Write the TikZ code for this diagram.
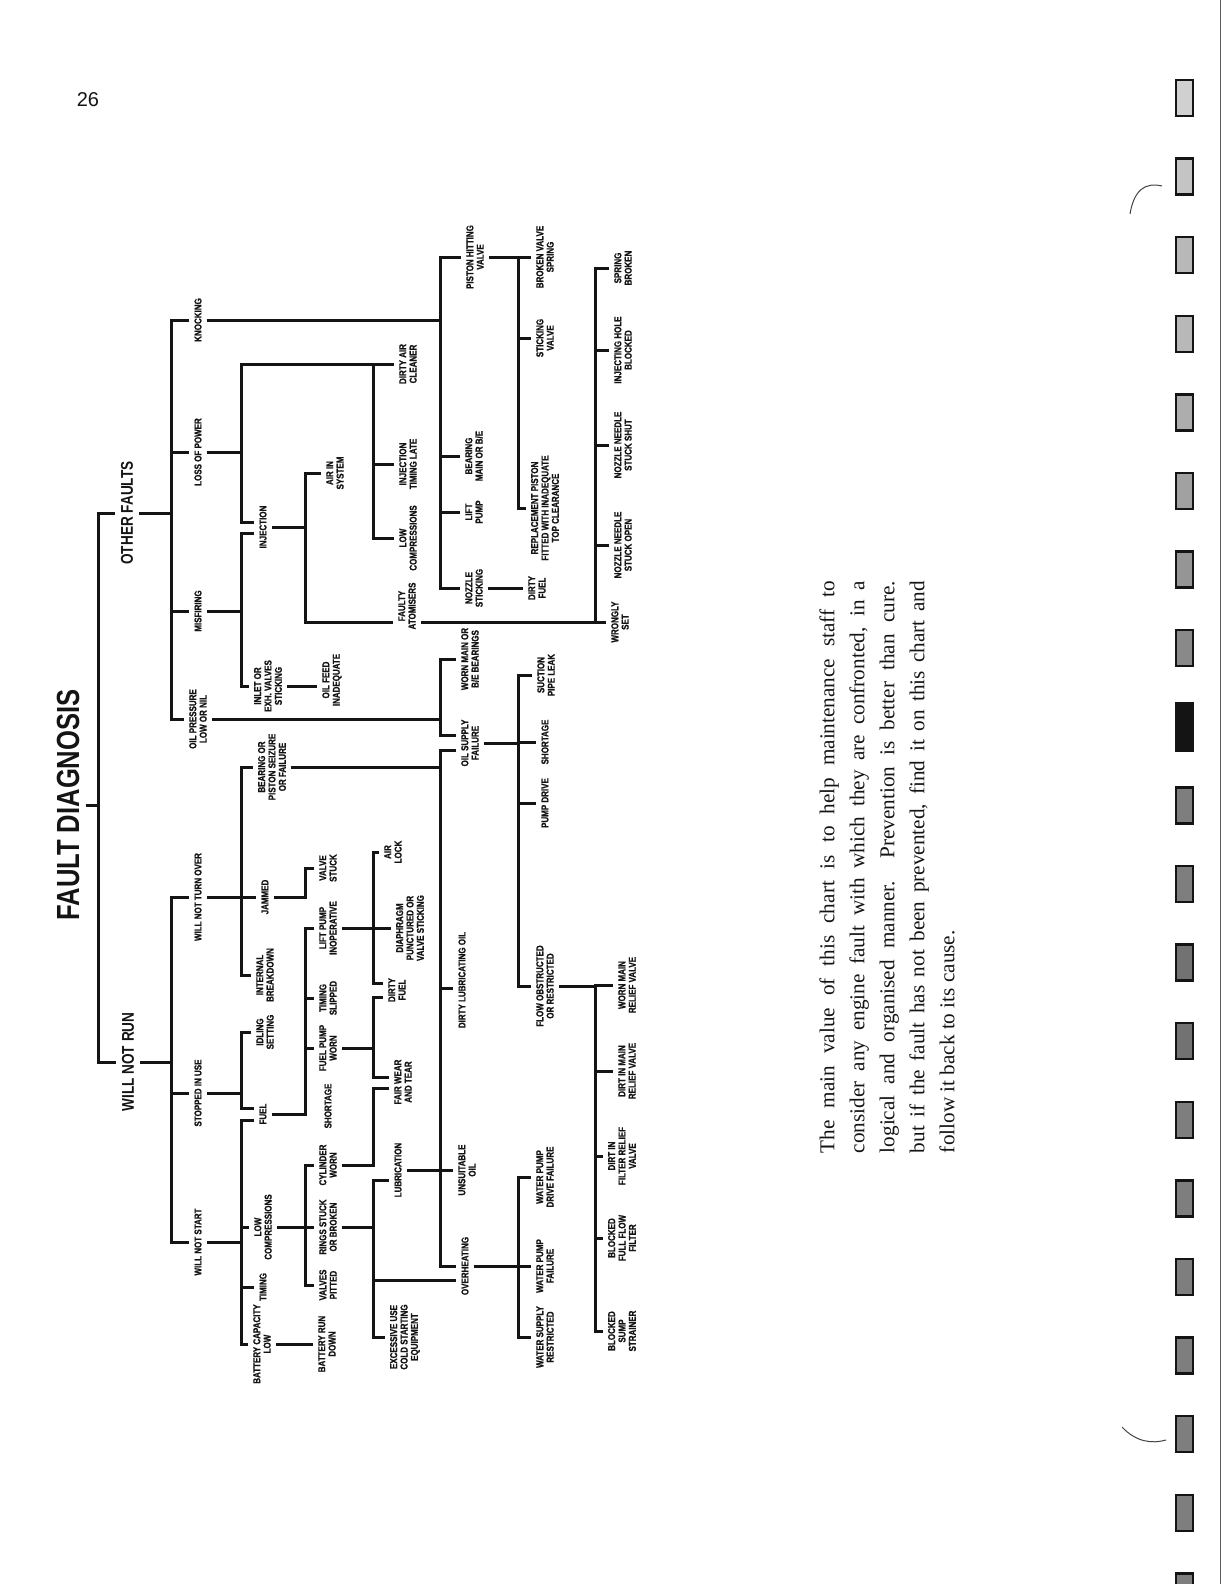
\documentclass[tikz,border=0pt]{standalone}
\usepackage{fontspec}
\setmainfont{Liberation Serif}
\newfontfamily\chartfont{Liberation Sans}[FakeStretch=0.8, FakeBold=1]
\newfontfamily\headfont{Liberation Sans}[FakeStretch=0.8]
\newfontfamily\pagefont{Liberation Sans}
\usetikzlibrary{calc}
\definecolor{ink}{HTML}{141414}

\begin{document}
\begin{tikzpicture}[
  x=0.5pt, y=-0.5pt, color=ink,
  wire/.style={draw=ink, line width=1.5pt},
  cause/.style={rotate=90, align=center, inner sep=2.5pt,
    font=\chartfont\bfseries\fontsize{5}{5.2}\selectfont},
  fault/.style={rotate=90, inner sep=3pt,
    font=\headfont\bfseries\fontsize{8.5}{10}\selectfont},
  head/.style={rotate=90, inner sep=3pt,
    font=\headfont\bfseries\fontsize{16}{18}\selectfont},
  note/.style={rotate=90, align=left, inner sep=0pt,
    font=\fontsize{10.6}{15}\selectfont},
  hole/.style={draw=ink, line width=1.2pt},
]
  \useasboundingbox (0,0) rectangle (1224,1584);

  % Page coordinates in pixels, y downwards; x of each column of bars.
  \def\colA{98} \def\colB{171} \def\colC{241} \def\colD{305}
  \def\colE{373} \def\colF{440} \def\colG{518} \def\colH{595}
  \def\notew{286pt}

  \node[font=\pagefont\fontsize{10}{12}\selectfont] (page) at (88,100) {26};

  % Heading and the two families of faults.
  \node[head] (root) at (68,805) {FAULT DIAGNOSIS};
  \node[fault] (other) at (127,513) {OTHER FAULTS};
  \node[fault] (wnrun) at (128,1062) {WILL NOT RUN};

  % Symptoms.
  \node[cause] (knock) at (198,320) {KNOCKING};
  \node[cause] (lossp) at (198,452) {LOSS OF POWER};
  \node[cause] (misf) at (198,611) {MISFIRING};
  \node[cause] (oilp) at (198,719) {OIL PRESSURE\\LOW OR NIL};
  \node[cause] (noturn) at (198,897) {WILL NOT TURN OVER};
  \node[cause] (stopped) at (198,1093) {STOPPED IN USE};
  \node[cause] (nostart) at (198,1242) {WILL NOT START};

  % First causes.
  \node[cause] (inject) at (263,527) {INJECTION};
  \node[cause] (inlet) at (268,686) {INLET OR\\EXH. VALVES\\STICKING};
  \node[cause] (seize) at (272,767) {BEARING OR\\PISTON SEIZURE\\OR FAILURE};
  \node[cause] (jammed) at (265,897) {JAMMED};
  \node[cause] (internal) at (265,975) {INTERNAL\\BREAKDOWN};
  \node[cause] (idling) at (265,1032) {IDLING\\SETTING};
  \node[cause] (fuel) at (263,1114) {FUEL};
  \node[cause] (lowcomp) at (263,1227) {LOW\\COMPRESSIONS};
  \node[cause] (timing) at (263,1287) {TIMING};
  \node[cause] (battery) at (262,1344) {BATTERY CAPACITY\\LOW};

  \node[cause] (airsys) at (335,473) {AIR IN\\SYSTEM};
  \node[cause] (oilfeed) at (332,680) {OIL FEED\\INADEQUATE};
  \node[cause] (valvestk) at (328,868) {VALVE\\STUCK};
  \node[cause] (liftinop) at (328,928) {LIFT PUMP\\INOPERATIVE};
  \node[cause] (timslip) at (328,998) {TIMING\\SLIPPED};
  \node[cause] (pumpworn) at (328,1048) {FUEL PUMP\\WORN};
  \node[cause] (shortf) at (328,1106) {SHORTAGE};
  \node[cause] (cylworn) at (328,1165) {CYLINDER\\WORN};
  \node[cause] (rings) at (328,1227) {RINGS STUCK\\OR BROKEN};
  \node[cause] (pitted) at (328,1285) {VALVES\\PITTED};
  \node[cause] (rundown) at (327,1344) {BATTERY RUN\\DOWN};

  \node[cause] (aircln) at (408,364) {DIRTY AIR\\CLEANER};
  \node[cause] (late) at (408,464) {INJECTION\\TIMING LATE};
  \node[cause] (lowcompb) at (408,538) {LOW\\COMPRESSIONS};
  \node[cause] (atomis) at (407,606) {FAULTY\\ATOMISERS};
  \node[cause] (airlock) at (393,852) {AIR\\LOCK};
  \node[cause] (diaph) at (410,928) {DIAPHRAGM\\PUNCTURED OR\\VALVE STICKING};
  \node[cause] (dirtyf) at (397,990) {DIRTY\\FUEL};
  \node[cause] (wear) at (403,1082) {FAIR WEAR\\AND TEAR};
  \node[cause] (lubric) at (398,1170) {LUBRICATION};
  \node[cause] (coldst) at (405,1337) {EXCESSIVE USE\\COLD STARTING\\EQUIPMENT};

  % Deeper causes.
  \node[cause] (hitting) at (475,257) {PISTON HITTING\\VALVE};
  \node[cause] (bearing) at (474,456) {BEARING\\MAIN OR B/E};
  \node[cause] (liftp) at (474,512) {LIFT\\PUMP};
  \node[cause] (nozstk) at (474,588) {NOZZLE\\STICKING};
  \node[cause] (wornbe) at (470,659) {WORN MAIN OR\\B/E BEARINGS};
  \node[cause] (supply) at (470,743) {OIL SUPPLY\\FAILURE};
  \node[cause] (dirtyoil) at (462,980) {DIRTY LUBRICATING OIL};
  \node[cause] (unsuit) at (467,1170) {UNSUITABLE\\OIL};
  \node[cause] (overheat) at (465,1266) {OVERHEATING};

  \node[cause] (brokensp) at (545,257) {BROKEN VALVE\\SPRING};
  \node[cause] (sticking) at (545,338) {STICKING\\VALVE};
  \node[cause] (replace) at (545,508) {REPLACEMENT PISTON\\FITTED WITH INADEQUATE\\TOP CLEARANCE};
  \node[cause] (dirtyfb) at (537,588) {DIRTY\\FUEL};
  \node[cause] (suction) at (546,675) {SUCTION\\PIPE LEAK};
  \node[cause] (shorto) at (545,742) {SHORTAGE};
  \node[cause] (pumpdrv) at (545,803) {PUMP DRIVE};
  \node[cause] (flow) at (545,986) {FLOW OBSTRUCTED\\OR RESTRICTED};
  \node[cause] (wpdrive) at (545,1177) {WATER PUMP\\DRIVE FAILURE};
  \node[cause] (wpfail) at (545,1266) {WATER PUMP\\FAILURE};
  \node[cause] (wsupply) at (545,1337) {WATER SUPPLY\\RESTRICTED};

  \node[cause] (springbr) at (623,268) {SPRING\\BROKEN};
  \node[cause] (hole) at (623,350) {INJECTING HOLE\\BLOCKED};
  \node[cause] (nzshut) at (623,445) {NOZZLE NEEDLE\\STUCK SHUT};
  \node[cause] (nzopen) at (623,545) {NOZZLE NEEDLE\\STUCK OPEN};
  \node[cause] (wrongly) at (620,622) {WRONGLY\\SET};
  \node[cause] (wornrv) at (627,985) {WORN MAIN\\RELIEF VALVE};
  \node[cause] (dirtmain) at (627,1071) {DIRT IN MAIN\\RELIEF VALVE};
  \node[cause] (dirtfilt) at (622,1156) {DIRT IN\\FILTER RELIEF\\VALVE};
  \node[cause] (fullflow) at (622,1238) {BLOCKED\\FULL FLOW\\FILTER};
  \node[cause] (sump) at (622,1331) {BLOCKED\\SUMP\\STRAINER};

  % Entry points of causes reached from two bars.
  \coordinate (inject-a) at ($(inject.north)+(0,-5)$);
  \coordinate (inject-b) at ($(inject.north)+(0,6)$);
  \coordinate (supply-a) at ($(supply.north)+(0,-8)$);
  \coordinate (supply-b) at ($(supply.north)+(0,7)$);
  \coordinate (fuel-a) at ($(fuel.north)+(0,-6)$);
  \coordinate (fuel-b) at ($(fuel.north)+(0,6)$);
  \coordinate (dirtyf-a) at ($(dirtyf.north)+(0,-7)$);
  \coordinate (dirtyf-b) at ($(dirtyf.north)+(0,7)$);
  \coordinate (wear-a) at ($(wear.north)+(0,-5)$);
  \coordinate (wear-b) at ($(wear.north)+(0,6)$);
  \coordinate (atomis-in) at ($(atomis.north)+(0,16)$);
  \coordinate (atomis-out) at ($(atomis.south)+(0,16)$);
  \coordinate (overheat-b) at ($(overheat.north)+(0,14)$);
  \coordinate (lubric-in) at ($(lubric.north)+(0,10)$);
  \coordinate (dirtyoil-in) at ($(dirtyoil.north)+(0,8)$);

  % Bracket wiring: out of a label, along to its bar, into each child.
  \foreach \c in {other,wnrun}
    \draw[wire] (root.south) -| (\colA,0 |- \c.north) -- (\c.north);
  \foreach \c in {knock,lossp,misf,oilp}
    \draw[wire] (other.south) -| (\colB,0 |- \c.north) -- (\c.north);
  \foreach \c in {noturn,stopped,nostart}
    \draw[wire] (wnrun.south) -| (\colB,0 |- \c.north) -- (\c.north);

  \foreach \c in {hitting,bearing,liftp,nozstk}
    \draw[wire] (knock.south) -| (\colF,0 |- \c.north) -- (\c.north);
  \foreach \c in {brokensp,sticking,replace}
    \draw[wire] (hitting.south) -| (\colG,0 |- \c.north) -- (\c.north);
  \draw[wire] (nozstk.south) -- (dirtyfb.north);

  \foreach \c in {aircln,late,lowcompb}
    \draw[wire] (lossp.south) -| (\colC,0 |- aircln.north) -| (\colE,0 |- \c.north) -- (\c.north);
  \draw[wire] (lossp.south) -| (\colC,0 |- inject-a) -- (inject-a);
  \draw[wire] (misf.south) -| (\colC,0 |- inject-b) -- (inject-b);
  \draw[wire] (misf.south) -| (\colC,0 |- inlet.north) -- (inlet.north);
  \draw[wire] (inlet.south) -- (inlet.south -| oilfeed.north);
  \draw[wire] (inject.south) -| (\colD,0 |- airsys.north) -- (airsys.north);
  \draw[wire] (inject.south) -| (\colD,0 |- atomis-in) -- (atomis-in);
  \foreach \c in {springbr,hole,nzshut,nzopen,wrongly}
    \draw[wire] (atomis-out) -| (\colH,0 |- \c.north) -- (\c.north);

  \draw[wire] (oilp.south) -| (\colF,0 |- wornbe.north) -- (wornbe.north);
  \draw[wire] (oilp.south) -| (\colF,0 |- supply-a) -- (supply-a);
  \foreach \c in {suction,shorto,pumpdrv,flow}
    \draw[wire] (supply.south) -| (\colG,0 |- \c.north) -- (\c.north);
  \foreach \c in {wornrv,dirtmain,dirtfilt,fullflow,sump}
    \draw[wire] (flow.south) -| (\colH,0 |- \c.north) -- (\c.north);

  \foreach \c in {seize,jammed,internal}
    \draw[wire] (noturn.south) -| (\colC,0 |- \c.north) -- (\c.north);
  \draw[wire] (jammed.south) -| (\colD,0 |- valvestk.north) -- (valvestk.north);
  \foreach \c in {supply-b,dirtyoil-in,overheat.north}
    \draw[wire] (seize.south) -| (\colF,0 |- \c) -- (\c);
  \foreach \c in {wpdrive,wpfail,wsupply}
    \draw[wire] (overheat.south) -| (\colG,0 |- \c.north) -- (\c.north);
  \draw[wire] (lubric.south) -- (unsuit.north);

  \foreach \c in {idling.north,fuel-a}
    \draw[wire] (stopped.south) -| (\colC,0 |- \c) -- (\c);
  \foreach \c in {fuel-b,lowcomp.north,timing.north,battery.north}
    \draw[wire] (nostart.south) -| (\colC,0 |- \c) -- (\c);
  \draw[wire] (battery.south) -- (rundown.north);
  \foreach \c in {liftinop,timslip,pumpworn}
    \draw[wire] (fuel.south) -| (\colD,0 |- \c.north) -- (\c.north);
  \foreach \c in {airlock.north,diaph.north,dirtyf-a}
    \draw[wire] (liftinop.south) -| (\colE,0 |- \c) -- (\c);
  \foreach \c in {dirtyf-b,wear-a}
    \draw[wire] (pumpworn.south) -| (\colE,0 |- \c) -- (\c);
  \foreach \c in {cylworn,rings,pitted}
    \draw[wire] (lowcomp.south) -| (\colD,0 |- \c.north) -- (\c.north);
  \draw[wire] (cylworn.south) -| (\colE,0 |- wear-b) -- (wear-b);
  \foreach \c in {lubric-in,overheat-b,coldst.north}
    \draw[wire] (rings.south) -| (\colE,0 |- \c) -- (\c);

  % The note beside the chart.
  \node[note] (blurb) at (887,867) {%
    \makebox[\notew][s]{The main value of this chart is to help maintenance staff to}\\
    \makebox[\notew][s]{consider any engine fault with which they are confronted, in a}\\
    \makebox[\notew][s]{logical and organised manner.\ \ Prevention is better than cure.}\\
    \makebox[\notew][s]{but if the fault has not been prevented, find it on this chart and}\\
    follow it back to its cause.};

  % Film-strip holes and marks down the right-hand margin.
  \foreach \k/\s in {0/20,1/25,2/30,3/30,4/35,5/40,6/45,7/50,9/55,10/55,
      11/60,12/60,13/55,14/55,15/55,16/55,17/55,18/55,19/55}
    \filldraw[hole, fill=ink!\s] (1176,{80+78.6*\k}) rectangle (1193,{116+78.6*\k});
  \fill[ink] (1175,702) rectangle (1194,752);
  \draw[ink!70, line width=.5pt] (1220,0) -- (1220,1584);
  \draw[ink!80, line width=.5pt] (1162,186) .. controls (1145,182) and (1134,190) .. (1130,214);
  \draw[ink!80, line width=.5pt] (1122,1427) .. controls (1136,1442) and (1152,1444) .. (1166,1440);
\end{tikzpicture}
\end{document}
